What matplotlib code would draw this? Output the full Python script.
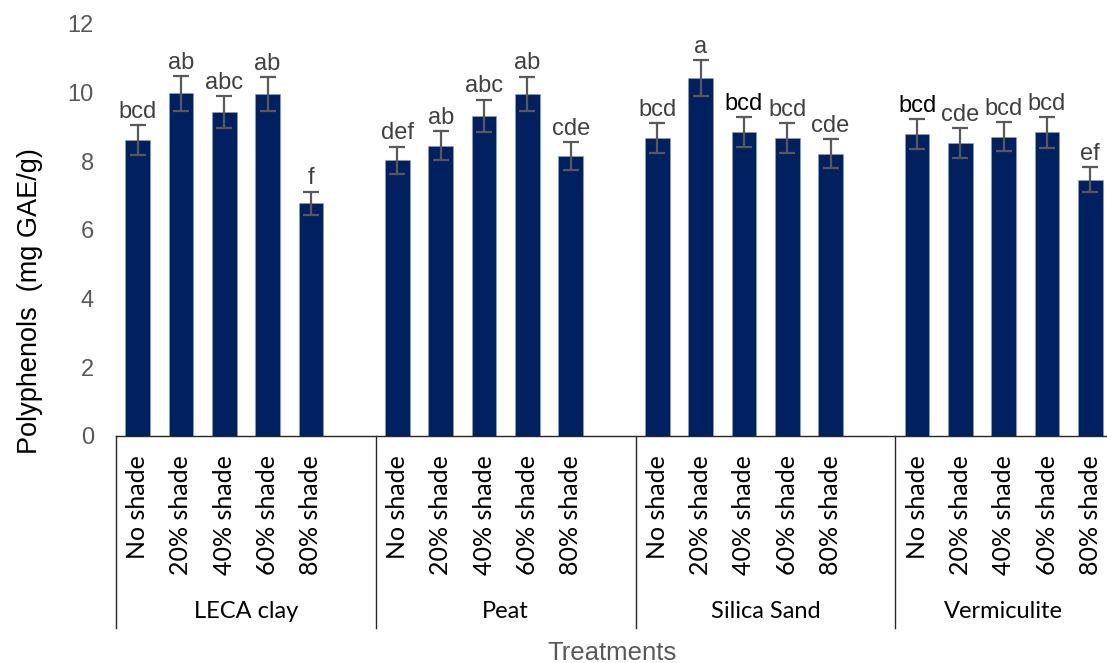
import matplotlib

matplotlib.use("Agg")

import matplotlib.pyplot as plt
import matplotlib.transforms as mtransforms

groups = ["LECA clay", "Peat", "Silica Sand", "Vermiculite"]
shades = ["No shade", "20% shade", "40% shade", "60% shade", "80% shade"]

leca = [8.62, 9.98, 9.43, 9.97, 6.78]
peat = [8.03, 8.45, 9.32, 9.97, 8.16]
silica = [8.68, 10.43, 8.86, 8.68, 8.22]
vermiculite = [8.79, 8.53, 8.72, 8.84, 7.47]

leca_err = [0.44, 0.50, 0.47, 0.49, 0.34]
peat_err = [0.40, 0.42, 0.48, 0.50, 0.40]
silica_err = [0.43, 0.52, 0.43, 0.43, 0.42]
vermiculite_err = [0.43, 0.43, 0.43, 0.45, 0.37]

leca_letters = ["bcd", "ab", "abc", "ab", "f"]
peat_letters = ["def", "ab", "abc", "ab", "cde"]
silica_letters = ["bcd", "a", "bcd", "bcd", "cde"]
vermiculite_letters = ["bcd", "cde", "bcd", "bcd", "ef"]

# letters that Excel rendered in black instead of grey
black_letters = [(2, 2), (3, 0)]

values = [leca, peat, silica, vermiculite]
errors = [leca_err, peat_err, silica_err, vermiculite_err]
letters = [leca_letters, peat_letters, silica_letters, vermiculite_letters]

BAR = "#002060"
GREY = "#595959"
SLOT = len(shades) + 1  # one blank slot after each group, as in Excel

W, H = 1107, 663
fig = plt.figure(figsize=(W / 100, H / 100), dpi=100, facecolor="white")
ax = fig.add_axes([116 / W, (H - 436) / H, (1112 - 116) / W, 412 / H])

positions, labels = [], []
for g, name in enumerate(groups):
    xs = [g * SLOT + i for i in range(len(shades))]
    ax.bar(xs, values[g], width=0.57, color=BAR, edgecolor="#8fa0c0", linewidth=0.4, zorder=2)
    ax.errorbar(xs, values[g], yerr=errors[g], fmt="none", ecolor=GREY,
                elinewidth=1.6, capsize=5.5, capthick=1.6, zorder=3)
    for i, x in enumerate(xs):
        color = "black" if (g, i) in black_letters else "#404040"
        ax.annotate(letters[g][i], (x, values[g][i] + errors[g][i]),
                    xytext=(0, 1.5), textcoords="offset points",
                    ha="center", va="bottom", fontsize=17, color=color,
                    family="Liberation Sans")
    positions += xs
    labels += shades

ax.set_xlim(-0.5, len(groups) * SLOT - 1.5)
ax.set_ylim(0, 12)
ax.set_yticks(range(0, 13, 2))
ax.tick_params(axis="y", length=0, pad=16, labelsize=17, labelcolor=GREY)
for lab in ax.get_yticklabels():
    lab.set_family("Liberation Sans")

ax.set_xticks(positions)
ax.set_xticklabels(labels, rotation=90, fontsize=18, family="Lato", color="black")
ax.tick_params(axis="x", length=0, pad=14)

for side in ["left", "right", "top"]:
    ax.spines[side].set_visible(False)
ax.spines["bottom"].set_color("#262626")
ax.spines["bottom"].set_linewidth(1)

trans = mtransforms.blended_transform_factory(ax.transData, ax.transAxes)
sep_bottom = -(628 - 436) / 412
for g in range(len(groups) + 1):
    xsep = g * SLOT - 0.5
    ax.plot([xsep, xsep], [0, sep_bottom], color="#262626", linewidth=1,
            transform=trans, clip_on=False)
for g, name in enumerate(groups):
    xc = g * SLOT + (len(shades) - 1) / 2 + 0.5 if g < len(groups) - 1 else g * SLOT + (len(shades) - 1) / 2
    ax.text(xc, -(612 - 436) / 412, name, transform=trans, ha="center", va="center",
            fontsize=17, family="Lato", color="black")

ax.set_ylabel("Polyphenols  (mg GAE/g)", fontsize=19.5, family="Liberation Sans",
              color="black")
ax.yaxis.set_label_coords(-(116 - 43) / 996, (436 - 301) / 412)
fig.text(612 / W, 1 - 653 / H, "Treatments", ha="center", va="center",
         fontsize=18.5, family="Liberation Sans", color=GREY)

fig.savefig("out.png", dpi=100, facecolor="white")
